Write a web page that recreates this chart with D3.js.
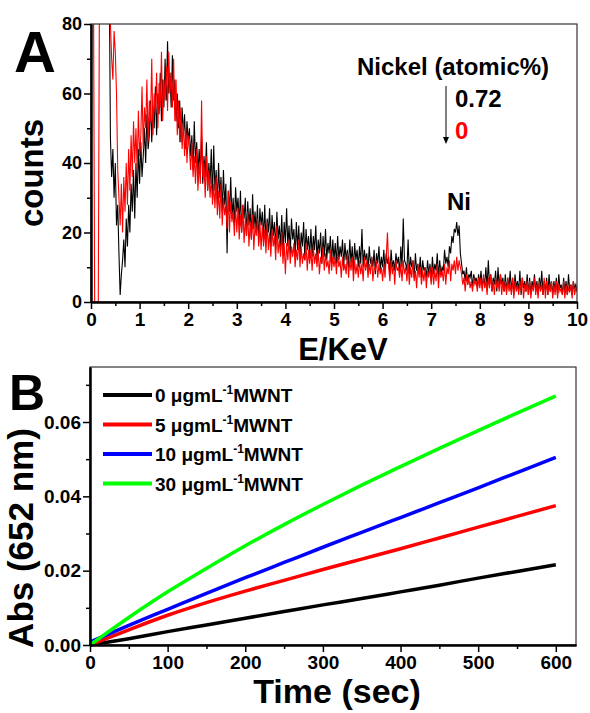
<!DOCTYPE html>
<html>
<head>
<meta charset="utf-8">
<script src="https://cdn.jsdelivr.net/npm/d3@7"></script>
<style>
  body { margin: 0; background: #fff; }
  svg { display: block; font-family: "Liberation Sans", Arial, sans-serif; font-weight: bold; }
</style>
</head>
<body>
<div id="chart"></div>
<script>
// Panel A: EDX spectrum, channels every 0.025 keV starting at 0.025 keV
var energyStart = 0.025;
var energyStep = 0.025;
var countsNickel = [
  95,95,95,95,95,95,95,95,95,95,95,95,95,95,95,47,36,44,30,40,
  22,28,14,2,8,12,18,10,24,16,28,20,34,26,38,24,40,30,44,34,
  46,36,42,50,40,54,44,48,58,46,56,50,62,48,60,54,66,52,64,56,
  70,58,75,60,66,56,71,58,64,52,60,50,58,46,56,48,54,44,52,46,
  50,42,48,38,52,40,46,36,44,38,48,34,42,36,46,32,40,34,44,30,
  45,32,38,28,40,30,36,26,38,28,34,14,32,26,36,24,30,22,33,26,
  30,22,32,20,28,24,30,19,29,22,27,18,31,21,26,20,28,17,27,22,
  26,18,28,17,24,20,27,16,25,19,23,15,26,18,22,16,25,14,23,17,
  27,16,22,14,24,18,21,13,23,15,22,13,20,16,23,12,21,15,19,13,
  21,13,19,15,22,12,18,14,20,11,19,13,21,12,17,14,19,11,18,12,
  17,11,19,12,16,13,18,10,17,12,15,10,18,11,16,9,17,12,15,10,
  16,11,21,10,15,12,14,9,16,11,13,10,15,8,14,11,16,9,13,10,
  15,9,14,11,13,8,15,10,12,9,14,11,13,8,16,10,24,12,11,9,
  18,8,13,10,12,7,14,9,11,8,13,7,12,9,10,7,12,8,11,6,
  13,8,11,9,14,7,12,8,10,9,15,11,13,10,16,14,19,17,21,20,
  23,19,22,14,11,8,9,6,10,5,8,7,9,4,8,6,7,4,8,5,
  9,4,7,5,10,4,12,5,8,3,7,5,9,3,10,4,8,5,7,3,
  8,3,7,4,9,3,7,2,8,4,6,3,9,2,7,4,6,3,8,2,
  7,2,6,4,8,3,6,2,7,4,9,2,6,3,7,2,8,3,6,2,
  6,3,7,2,8,4,5,2,7,3,6,2,8,3,5,2,6,4,5,3
];
var countsPlain = [
  95,95,0,0,0,0,95,95,95,95,95,95,95,95,95,80,70,64,78,72,
  60,38,30,22,34,20,36,26,40,28,44,32,48,36,52,40,50,38,55,42,
  48,62,44,56,50,64,46,58,52,70,48,60,54,66,50,63,56,72,52,64,
  58,68,55,72,60,66,56,70,52,64,48,58,46,56,44,52,42,50,40,48,
  44,38,46,36,42,34,44,32,40,34,58,36,40,30,42,32,38,30,36,28,
  34,27,36,25,32,24,34,22,30,25,28,21,32,20,29,23,26,19,28,20,
  27,18,25,20,28,17,24,19,26,16,23,18,25,15,22,19,24,16,23,15,
  22,16,21,14,23,15,20,13,21,16,19,12,22,14,18,13,20,11,17,8,
  17,12,18,11,16,13,17,10,15,12,18,10,16,11,14,12,17,9,15,11,
  15,9,16,11,14,10,15,8,13,11,16,9,14,10,12,8,15,9,13,10,
  13,8,14,10,12,7,13,9,11,8,14,7,12,9,13,6,12,8,11,7,
  12,8,11,6,13,9,12,7,11,8,13,6,10,9,12,7,11,8,10,6,
  11,7,13,20,10,6,12,8,11,5,12,9,10,7,11,6,12,8,10,6,
  11,5,10,7,12,6,9,4,11,7,10,5,9,6,10,4,9,7,10,5,
  10,5,9,6,11,4,10,7,9,6,11,5,10,8,12,6,11,9,12,8,
  13,9,12,10,8,5,7,3,8,5,7,4,6,3,7,5,6,3,7,4,
  7,3,8,4,6,2,7,4,8,3,6,2,7,4,6,3,8,2,6,3,
  6,2,7,3,5,2,7,1,6,3,5,2,6,3,7,1,5,3,6,2,
  6,1,5,3,7,2,5,1,6,3,5,2,7,1,6,2,5,3,6,1,
  5,2,6,1,5,3,4,2,6,1,5,2,4,3,5,1,6,2,4,3
];
var energyTicks = [0,1,2,3,4,5,6,7,8,9,10];
var countTicks = [0,20,40,60,80];

// Panel B: absorbance vs time
var timePoints = [0,50,100,150,200,250,300,350,400,450,500,550,600];
var abs0 = [0.0000,0.0017,0.0036,0.0054,0.0072,0.0090,0.0108,0.0125,0.0143,0.0161,0.0180,0.0198,0.0216];
var abs5 = [0.0000,0.0041,0.0080,0.0114,0.0145,0.0174,0.0203,0.0231,0.0259,0.0288,0.0317,0.0346,0.0375];
var abs10 = [0.0008,0.0053,0.0096,0.0139,0.0181,0.0222,0.0263,0.0303,0.0343,0.0383,0.0423,0.0464,0.0505];
var abs30 = [0.0000,0.0074,0.0143,0.0206,0.0267,0.0324,0.0378,0.0430,0.0480,0.0529,0.0577,0.0624,0.0670];
var doses = ["0", "5", "10", "30"];
var doseColors = ["#000000", "#ff0000", "#0000ff", "#00ff00"];
var timeTicks = [0,100,200,300,400,500,600];
var absTicks = [0,0.02,0.04,0.06];

function init() {
    var svg = d3.select("#chart")
                .append("svg")
                .attr("width", 590)
                .attr("height", 713);
    panelA(svg);
    panelB(svg);
}

function drawAxes(svg, x, y, xTicks, xMinor, yTicks, yMinor, xFont, yFont, yFormat) {
    var x0 = x.range()[0], x1 = x.range()[1];
    var y0 = y.range()[0], y1 = y.range()[1];
    // frame (top & right)
    svg.append("rect")
        .attr("x", x0).attr("y", y1)
        .attr("width", x1 - x0).attr("height", y0 - y1)
        .attr("fill", "none")
        .attr("stroke", "#333")
        .attr("stroke-width", 1.2);
    var gx = svg.append("g")
        .attr("transform", "translate(0," + y0 + ")")
        .call(d3.axisBottom(x).tickValues(xTicks).tickSize(7).tickSizeOuter(0).tickPadding(4));
    svg.append("g")
        .attr("transform", "translate(0," + y0 + ")")
        .call(d3.axisBottom(x).tickValues(xMinor).tickSize(4).tickSizeOuter(0).tickFormat(""));
    var gy = svg.append("g")
        .attr("transform", "translate(" + x0 + ",0)")
        .call(d3.axisLeft(y).tickValues(yTicks).tickSize(7).tickSizeOuter(0).tickPadding(2).tickFormat(yFormat));
    svg.append("g")
        .attr("transform", "translate(" + x0 + ",0)")
        .call(d3.axisLeft(y).tickValues(yMinor).tickSize(4).tickSizeOuter(0).tickFormat(""));
    svg.selectAll(".domain").attr("stroke-width", 2).attr("stroke", "#000");
    svg.selectAll(".tick line").attr("stroke-width", 1.5).attr("stroke", "#000");
    gx.selectAll("text").attr("font-size", xFont).attr("font-family", "Liberation Sans, Arial, sans-serif").attr("font-weight", "bold").attr("fill", "#000");
    gy.selectAll("text").attr("font-size", yFont).attr("font-family", "Liberation Sans, Arial, sans-serif").attr("font-weight", "bold").attr("fill", "#000");
}

function panelA(svg) {
    var x = d3.scaleLinear().domain([0, 10]).range([91, 577]);
    var y = d3.scaleLinear().domain([0, 80]).range([302, 24]);

    svg.append("clipPath").attr("id", "clipA")
        .append("rect").attr("x", 91).attr("y", 24).attr("width", 486).attr("height", 278);

    var line = d3.line()
        .x(function(d, i){ return x(energyStart + i * energyStep); })
        .y(function(d){ return y(d); });

    var g = svg.append("g").attr("clip-path", "url(#clipA)");
    g.append("path").datum(countsNickel)
        .attr("d", line).attr("fill", "none")
        .attr("stroke", "#000").attr("stroke-width", 1.1);
    g.append("path").datum(countsPlain)
        .attr("d", line).attr("fill", "none")
        .attr("stroke", "#ff0000").attr("stroke-width", 1.1);

    drawAxes(svg, x, y, energyTicks, d3.range(0.5, 10, 1), countTicks, [10,30,50,70], 19, 18, d3.format("d"));

    svg.append("text").text("A").attr("x", 14).attr("y", 72).attr("font-size", 58);
    svg.append("text").text("counts")
        .attr("transform", "translate(43,173) rotate(-90)")
        .attr("text-anchor", "middle").attr("font-size", 33);
    svg.append("text").text("E/KeV").attr("x", 343).attr("y", 360)
        .attr("text-anchor", "middle").attr("font-size", 31);

    // annotation
    svg.append("text").text("Nickel (atomic%)").attr("x", 357).attr("y", 75).attr("font-size", 24);
    svg.append("text").text("0.72").attr("x", 455).attr("y", 107).attr("font-size", 24);
    svg.append("text").text("0").attr("x", 455).attr("y", 139).attr("font-size", 24).attr("fill", "#ff0000");
    svg.append("line").attr("x1", 446).attr("x2", 446).attr("y1", 86).attr("y2", 138)
        .attr("stroke", "#000").attr("stroke-width", 1);
    svg.append("path").attr("d", "M443,137L449,137L446,144Z").attr("fill", "#000");
    svg.append("text").text("Ni").attr("x", 447).attr("y", 210).attr("font-size", 24);
}

function panelB(svg) {
    var x = d3.scaleLinear().domain([0, 626]).range([90, 576]);
    var y = d3.scaleLinear().domain([0, 0.0748]).range([645, 367]);
    var series = [abs0, abs5, abs10, abs30];

    var line = d3.line()
        .curve(d3.curveMonotoneX)
        .x(function(d, i){ return x(timePoints[i]); })
        .y(function(d){ return y(d); });

    series.forEach(function(s, k){
        svg.append("path").datum(s)
            .attr("d", line).attr("fill", "none")
            .attr("stroke", doseColors[k]).attr("stroke-width", 3.5);
    });

    drawAxes(svg, x, y, timeTicks, d3.range(50, 626, 100), absTicks, [0.01,0.03,0.05,0.07], 19, 19, d3.format(".2f"));

    // legend
    doses.forEach(function(d, k){
        var ly = 395 + k * 29.5;
        svg.append("line").attr("x1", 103).attr("x2", 152).attr("y1", ly).attr("y2", ly)
            .attr("stroke", doseColors[k]).attr("stroke-width", 4);
        var t = svg.append("text").attr("x", 155).attr("y", ly + 7).attr("font-size", 19);
        t.append("tspan").text(d + " \u03bcgmL");
        t.append("tspan").text("-1").attr("font-size", 12).attr("dy", -8);
        t.append("tspan").text("MWNT").attr("dy", 8);
    });

    svg.append("text").text("B").attr("x", 9).attr("y", 410).attr("font-size", 50);
    svg.append("text").text("Abs (652 nm)")
        .attr("transform", "translate(33,538) rotate(-90)")
        .attr("text-anchor", "middle").attr("font-size", 35);
    svg.append("text").text("Time (sec)").attr("x", 337).attr("y", 703)
        .attr("text-anchor", "middle").attr("font-size", 34);
}

window.onload = init;
</script>
</body>
</html>
